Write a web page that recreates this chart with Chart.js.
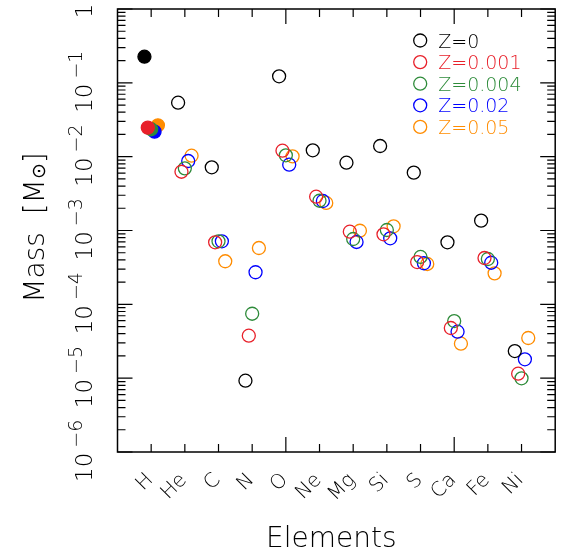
<!DOCTYPE html>
<html>
<head>
<meta charset="utf-8">
<style>
  body { margin: 0; background: #fff; }
  #wrap { width: 563px; height: 551px; }
</style>
</head>
<body>
<div id="wrap"><canvas id="myChart" width="563" height="551"></canvas></div>
<script src="https://cdn.jsdelivr.net/npm/chart.js@4.4.0/dist/chart.umd.min.js"></script>
<script>
// categories
const elements = ['H', 'He', 'C', 'N', 'O', 'Ne', 'Mg', 'Si', 'S', 'Ca', 'Fe', 'Ni'];
const decades = [-6, -5, -4, -3, -2, -1, 0];

// series (ejected mass in solar masses)
const seriesNames = ['Z=0', 'Z=0.001', 'Z=0.004', 'Z=0.02', 'Z=0.05'];
const seriesColors = ['#000000', '#e8202a', '#2e8b3a', '#0000ff', '#ff8c00'];
const seriesShift = [-0.2, -0.1, 0, 0.1, 0.2];

const massZ0    = [0.226, 0.0538, 0.00718, 9.24e-6, 0.1226, 0.0122, 0.00828, 0.01394, 0.00607, 6.92e-4, 1.36e-3, 2.33e-5];
const massZ001  = [0.0247, 0.00625, 6.92e-4, 3.76e-5, 0.01205, 0.00287, 9.63e-4, 8.88e-4, 3.74e-4, 4.78e-5, 4.24e-4, 1.15e-5];
const massZ004  = [0.0235, 0.00695, 7.14e-4, 7.46e-5, 0.01043, 0.00253, 7.67e-4, 1.016e-3, 4.38e-4, 5.94e-5, 4.11e-4, 9.96e-6];
const massZ02   = [0.0218, 0.00873, 7.14e-4, 2.72e-4, 0.00778, 0.00251, 6.99e-4, 7.84e-4, 3.60e-4, 4.26e-5, 3.66e-4, 1.80e-5];
const massZ05   = [0.0266, 0.0103, 3.83e-4, 5.79e-4, 0.0101, 0.00236, 9.93e-4, 1.14e-3, 3.52e-4, 2.93e-5, 2.63e-4, 3.50e-5];

const allMasses = [massZ0, massZ001, massZ004, massZ02, massZ05];

const FONT = '"DejaVu Sans", sans-serif';
const W = '200 ';

// frame, inward ticks, tick labels, axis titles and legend
const axesFrame = {
  id: 'axesFrame',
  afterDraw(chart) {
    const {ctx, chartArea: a, scales: {x, y}} = chart;
    ctx.save();
    ctx.strokeStyle = '#000';
    ctx.lineWidth = 1.5;
    ctx.strokeRect(a.left, a.top, a.right - a.left, a.bottom - a.top);

    ctx.lineWidth = 1.2;
    ctx.beginPath();
    for (let v = 1; v <= 12; v++) {
      const px = x.getPixelForValue(v);
      const len = v % 5 === 0 ? 15 : 8;
      ctx.moveTo(px, a.bottom); ctx.lineTo(px, a.bottom - len);
      ctx.moveTo(px, a.top); ctx.lineTo(px, a.top + len);
    }
    for (const d of decades) {
      for (let k = 1; k <= 9; k++) {
        if (d === 0 && k > 1) break;
        const py = y.getPixelForValue(k * Math.pow(10, d));
        const len = k === 1 ? 15 : 8;
        ctx.moveTo(a.left, py); ctx.lineTo(a.left + len, py);
        ctx.moveTo(a.right, py); ctx.lineTo(a.right - len, py);
      }
    }
    ctx.stroke();

    ctx.fillStyle = '#000';
    // y tick labels, rotated
    for (const d of decades) {
      const py = y.getPixelForValue(Math.pow(10, d));
      ctx.save();
      ctx.translate(a.left - 26, py);
      ctx.rotate(-Math.PI / 2);
      ctx.textBaseline = 'alphabetic';
      ctx.font = W + '23px ' + FONT;
      if (d === 0) {
        ctx.textAlign = 'center';
        ctx.fillText('1', -2, 0);
      } else {
        ctx.textAlign = 'left';
        ctx.fillText('10', -30, 0);
        const w = ctx.measureText('10').width;
        ctx.font = W + '19px ' + FONT;
        ctx.fillText('\u2212' + (-d), -30 + w + 5, -10);
      }
      ctx.restore();
    }

    // x tick labels, rotated 45 degrees
    ctx.font = W + '20px ' + FONT;
    ctx.textAlign = 'right';
    ctx.textBaseline = 'middle';
    elements.forEach((el, i) => {
      const px = x.getPixelForValue(i + 1);
      ctx.save();
      ctx.translate(px - 1, a.bottom + 25);
      ctx.rotate(-Math.PI / 4);
      ctx.fillText(el, 0, 0);
      ctx.restore();
    });

    // x title
    ctx.font = W + '28px ' + FONT;
    ctx.textAlign = 'center';
    ctx.textBaseline = 'alphabetic';
    ctx.fillText('Elements', (a.left + a.right) / 2 - 5, 547);

    // y title
    ctx.save();
    ctx.translate(44, (a.top + a.bottom) / 2 - 3);
    ctx.rotate(-Math.PI / 2);
    ctx.textAlign = 'left';
    const big = W + '28px ' + FONT, small = W + '19px ' + FONT;
    ctx.font = big;
    const w1 = ctx.measureText('Mass  [M').width;
    ctx.font = small;
    const w2 = ctx.measureText('\u2299').width;
    ctx.font = big;
    const w3 = ctx.measureText(']').width;
    let sx = -(w1 + w2 + w3) / 2;
    ctx.fillText('Mass  [M', sx, 0);
    ctx.font = small;
    ctx.fillText('\u2299', sx + w1, 1);
    ctx.font = big;
    ctx.fillText(']', sx + w1 + w2, 0);
    ctx.restore();

    // legend
    ctx.font = W + '19px ' + FONT;
    ctx.textAlign = 'left';
    ctx.textBaseline = 'alphabetic';
    ctx.lineWidth = 1.3;
    chart.data.datasets.forEach((ds, i) => {
      const ly = a.top + 31.5 + i * 21.6;
      const lx = a.right - 135;
      ctx.strokeStyle = ds.borderColor;
      ctx.beginPath();
      ctx.arc(lx, ly, 6.5, 0, Math.PI * 2);
      ctx.stroke();
      ctx.fillStyle = ds.borderColor;
      ctx.fillText(ds.label, lx + 18, ly + 7);
    });
    ctx.restore();
  }
};

const datasets = seriesNames.map((name, s) => ({
  label: name,
  data: allMasses[s].map((m, i) => ({x: i + 1 + seriesShift[s], y: m})),
  borderColor: seriesColors[s],
  backgroundColor: seriesColors[s],
  pointBackgroundColor: (c) => c.dataIndex === 0 ? seriesColors[s] : 'rgba(0,0,0,0)',
  pointRadius: 6.5,
  pointHoverRadius: 6.5,
  pointBorderWidth: 1.3,
  showLine: false
}));

const chart = new Chart(document.getElementById('myChart'), {
  type: 'scatter',
  data: { datasets: datasets },
  plugins: [axesFrame],
  options: {
    responsive: false,
    animation: false,
    layout: { padding: { left: 117.5, right: 2.5, top: 9, bottom: 99 } },
    plugins: {
      legend: { display: false },
      tooltip: { enabled: false }
    },
    scales: {
      x: { type: 'linear', min: 0, max: 13, display: false },
      y: { type: 'logarithmic', min: 1e-6, max: 1, display: false }
    }
  }
});
</script>
</body>
</html>
